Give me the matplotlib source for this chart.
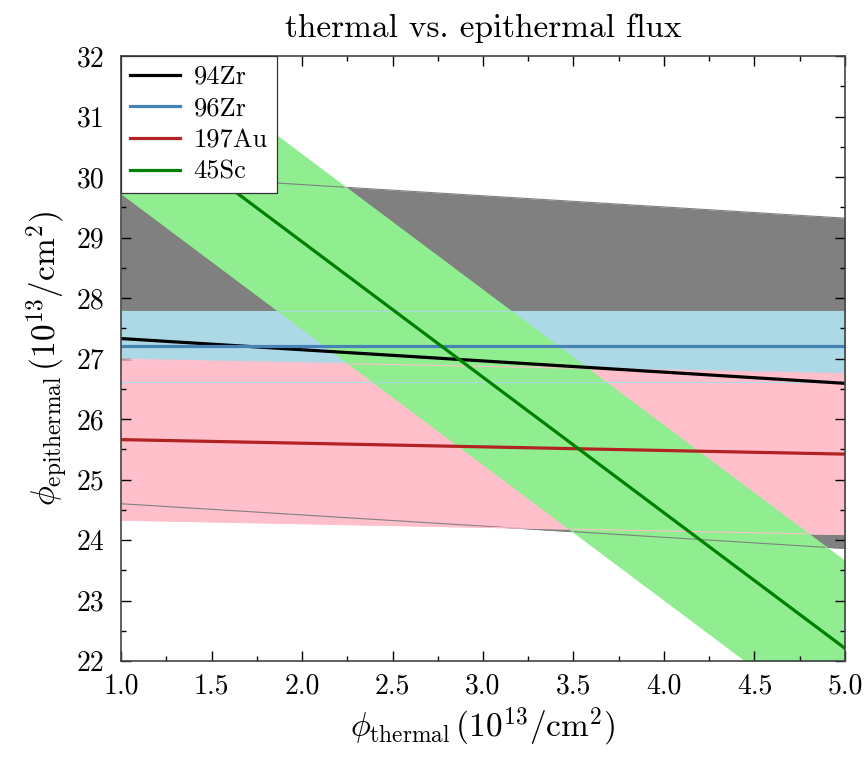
import numpy as np
import matplotlib
matplotlib.use('Agg')
import matplotlib.pyplot as plt
from matplotlib.ticker import MultipleLocator

plt.rcParams['font.family'] = 'serif'
plt.rcParams['font.serif'] = ['cmr10']
plt.rcParams['mathtext.fontset'] = 'cm'
plt.rcParams['axes.formatter.use_mathtext'] = True

# thermal flux range (end points of the straight lines)
phi_thermal = [1.0, 5.0]

# epithermal flux from each monitor at the two ends, with 1-sigma half widths
labels = ['94Zr', '96Zr', '197Au', '45Sc']
centers = [
    [27.33, 26.59],
    [27.20, 27.20],
    [25.66, 25.42],
    [31.17, 22.21],
]
sigmas = [2.73, 0.59, 1.33, 1.44]

line_colors = ['black', 'steelblue', 'firebrick', 'green']
band_colors = ['grey', 'lightblue', 'pink', 'lightgreen']

fig = plt.figure(figsize=(8.67, 7.65), dpi=100)
ax = fig.add_axes([0.1396, 0.1359, 0.835, 0.7909])

x = np.array(phi_thermal)
# bands first
for c, s, bc in zip(centers, sigmas, band_colors):
    c = np.array(c)
    ax.fill_between(x, c - s, c + s, color=bc, lw=0, zorder=1)
# thin band edges on top of all fills
for c, s, bc in zip(centers, sigmas, band_colors):
    c = np.array(c)
    ax.plot(x, c + s, color=bc, lw=0.8, zorder=2)
    ax.plot(x, c - s, color=bc, lw=0.8, zorder=2)
# central values
for c, lab, lc in zip(centers, labels, line_colors):
    ax.plot(x, c, color=lc, lw=2.3, label=lab, zorder=3)

ax.set_xlim(1, 5)
ax.set_ylim(22, 32)
ax.xaxis.set_major_locator(MultipleLocator(0.5))
ax.xaxis.set_minor_locator(MultipleLocator(0.25))
ax.yaxis.set_major_locator(MultipleLocator(1))
ax.yaxis.set_minor_locator(MultipleLocator(0.5))
ax.xaxis.set_major_formatter(matplotlib.ticker.FormatStrFormatter('%.1f'))
ax.yaxis.set_major_formatter(matplotlib.ticker.FormatStrFormatter('%d'))
ax.tick_params(which='both', direction='in', top=True, right=True, labelsize=20)
ax.tick_params(axis='x', which='major', pad=9)
ax.tick_params(axis='y', which='major', pad=12)
ax.tick_params(which='major', length=7, width=1)
ax.tick_params(which='minor', length=3.6, width=1)
for sp in ax.spines.values():
    sp.set_color('#444444')
    sp.set_linewidth(1.2)
    sp.set_zorder(5)

ax.set_xlabel(r'$\phi_{\rm thermal}\,(10^{13}/{\rm cm}^2)$', fontsize=24, labelpad=4)
ax.set_ylabel(r'$\phi_{\rm epithermal}\,(10^{13}/{\rm cm}^2)$', fontsize=24, labelpad=4)
ax.set_title('thermal vs. epithermal flux', fontsize=24, pad=14)

leg = ax.legend(loc='upper left', bbox_to_anchor=(0, 1), borderaxespad=0,
                fontsize=19, fancybox=False, framealpha=1, edgecolor='#333333',
                handlelength=1.9, handletextpad=0.5, labelspacing=0.3,
                borderpad=0.35)
leg.set_zorder(10)
leg.get_frame().set_linewidth(0.9)

fig.savefig('out.png', dpi=100)
